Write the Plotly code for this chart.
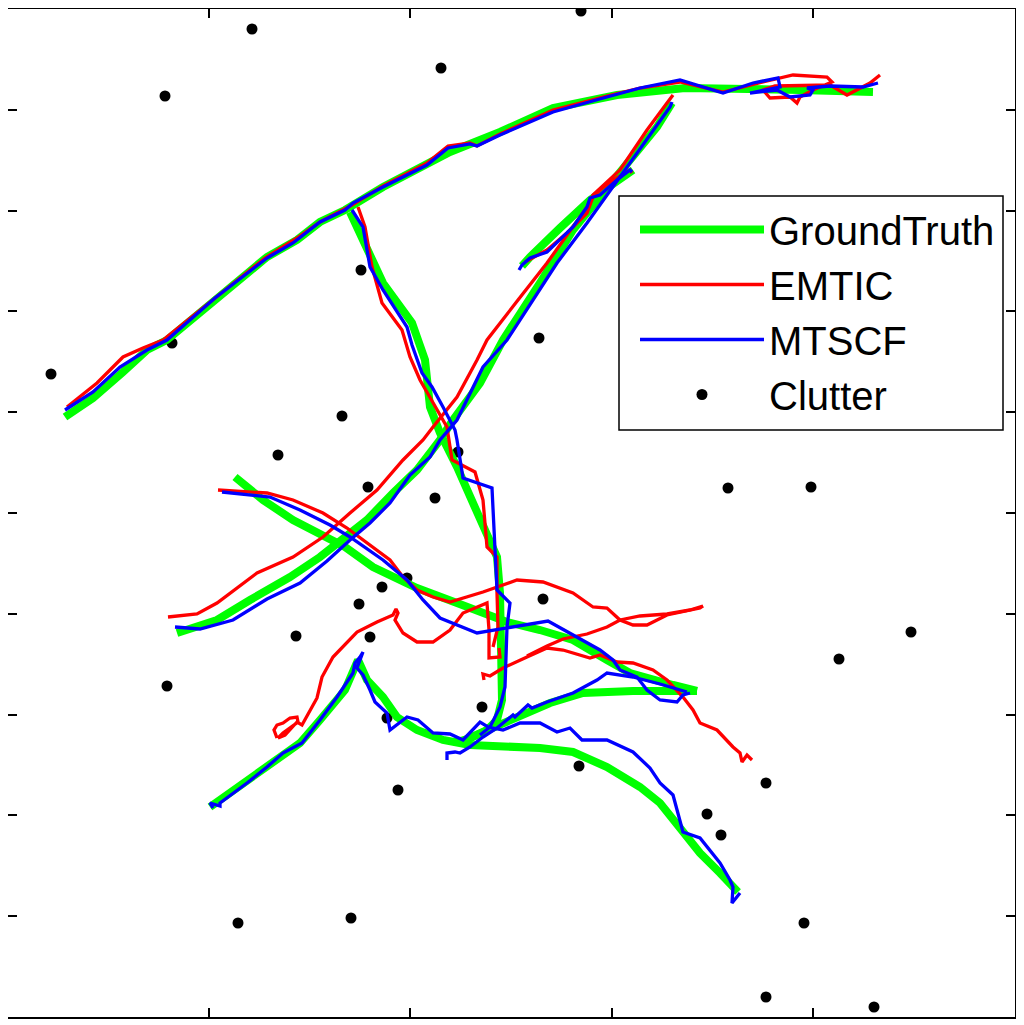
import plotly.graph_objects as go

# ---- Data (image-plane coordinates; y grows downward) ----
# Ground truth tracks
gt_tracks = [
    ([65, 93, 123, 147, 167, 215, 267, 297, 320, 345, 383, 450, 500, 553, 617, 685, 750, 800, 873],
     [417, 398, 372, 350, 340, 300, 257, 240, 222, 210, 187, 152, 132, 108, 95, 88, 88, 90, 92]),
    ([350, 370, 383, 412, 420, 425, 430, 440, 457, 480, 497, 500, 502, 502, 497, 487, 467, 453],
     [212, 253, 283, 323, 345, 360, 407, 433, 467, 520, 557, 593, 660, 700, 720, 730, 740, 742]),
    ([177, 217, 250, 290, 320, 343, 367, 393, 417, 440, 453, 480, 503, 540, 573, 603, 630, 657, 672],
     [633, 620, 600, 577, 557, 540, 520, 493, 470, 440, 420, 383, 340, 283, 230, 193, 160, 127, 103]),
    ([522, 530, 560, 590, 633],
     [266, 257, 228, 200, 170]),
    ([235, 263, 293, 345, 373, 417, 457, 507, 540, 573, 607, 630, 673, 697],
     [477, 500, 520, 547, 567, 588, 603, 622, 630, 640, 660, 673, 685, 691]),
    ([210, 247, 300, 320, 345, 358, 367, 383, 397, 417, 443, 470, 500, 540, 573, 607, 640, 660, 680, 700, 720, 738],
     [807, 780, 743, 720, 690, 660, 680, 697, 717, 730, 740, 745, 746, 748, 752, 767, 787, 803, 828, 853, 873, 892]),
    ([460, 480, 517, 550, 583, 633, 697],
     [742, 733, 717, 703, 693, 691, 691]),
]

# EMTIC estimates
emtic_tracks = [
    ([67, 97, 123, 143, 163, 215, 265, 297, 320, 352, 383, 427, 448, 470, 477, 500, 553, 607, 640, 680,
      723, 763, 793, 827, 832, 813, 800, 797, 790, 770, 763, 775, 830, 847, 870, 880],
     [407, 383, 357, 348, 340, 298, 258, 238, 222, 205, 186, 163, 146, 143, 146, 134, 110, 96, 88, 82,
      92, 82, 75, 77, 82, 90, 97, 103, 97, 98, 90, 86, 85, 95, 83, 75]),
    ([358, 365, 372, 382, 402, 410, 420, 437, 447, 452, 475, 483, 487, 497, 497, 498, 493],
     [207, 227, 267, 303, 330, 357, 380, 410, 427, 460, 472, 500, 547, 557, 593, 627, 647]),
    ([168, 197, 217, 257, 293, 323, 350, 377, 403, 423, 433, 457, 477, 487, 518, 547, 590, 593, 620, 647, 667, 673],
     [617, 614, 603, 573, 557, 537, 513, 490, 460, 440, 427, 397, 360, 340, 300, 263, 203, 195, 170, 130, 103, 95]),
    ([525, 547, 567, 587, 593, 600, 613, 630, 632],
     [262, 250, 233, 213, 197, 190, 180, 170, 173]),
    ([218, 267, 293, 323, 347, 367, 390, 403, 417, 433, 450, 483, 517, 543, 573, 593, 607, 620, 633, 647, 657, 667, 700, 703],
     [490, 493, 500, 513, 528, 543, 560, 577, 590, 597, 602, 592, 580, 582, 593, 607, 608, 620, 625, 625, 620, 615, 608, 606]),
    ([277, 274, 277, 283, 290, 297, 298, 290, 283, 278, 285, 297, 302, 317, 322, 333, 357, 377, 393, 396, 398, 395,
      403, 417, 433, 450, 463, 487, 489, 489, 500, 499],
     [738, 730, 725, 723, 718, 717, 722, 728, 733, 738, 735, 722, 725, 698, 677, 657, 632, 622, 615, 609, 613, 620,
      633, 642, 642, 630, 613, 603, 630, 658, 657, 648]),
    ([484, 483, 490, 503, 527, 547, 563, 590, 600, 617, 633, 653, 667, 683, 693, 700, 717, 733, 740, 742, 747, 752],
     [680, 674, 676, 668, 657, 648, 650, 658, 655, 662, 663, 670, 680, 697, 710, 723, 730, 747, 753, 762, 755, 760]),
    ([527, 547, 563, 587, 607, 620, 640, 667, 690, 703],
     [656, 646, 639, 634, 627, 620, 616, 614, 610, 606]),
]

# MTSCF estimates
mtscf_tracks = [
    ([65, 93, 120, 147, 167, 215, 267, 293, 320, 345, 353, 383, 427, 448, 470, 477, 500, 553, 607, 640, 680,
      723, 753, 778, 780, 750, 777, 790, 810, 813, 807, 830, 863, 878],
     [410, 392, 367, 350, 340, 298, 258, 243, 222, 210, 203, 187, 165, 148, 144, 146, 135, 112, 97, 88, 80,
      93, 83, 78, 87, 93, 90, 97, 95, 90, 88, 86, 87, 83]),
    ([352, 363, 370, 383, 407, 412, 422, 432, 443, 455, 457, 463, 492, 495, 497, 510, 507, 505, 500, 490, 480],
     [210, 227, 267, 290, 327, 345, 373, 387, 407, 430, 440, 478, 488, 557, 590, 603, 627, 687, 707, 727, 735]),
    ([175, 200, 233, 267, 300, 327, 350, 370, 390, 410, 430, 440, 457, 483, 507, 540, 557, 587, 613, 637, 670, 672],
     [627, 629, 620, 599, 583, 561, 540, 523, 503, 475, 457, 440, 420, 367, 340, 290, 263, 223, 187, 153, 107, 102]),
    ([519, 522, 530, 547, 573, 587, 590, 600, 617, 630, 632],
     [270, 265, 258, 252, 227, 207, 198, 195, 180, 170, 172]),
    ([222, 270, 300, 330, 350, 383, 407, 423, 440, 477, 548, 577, 600, 613, 620, 637, 647, 660, 677, 683, 690],
     [492, 497, 510, 525, 537, 560, 580, 600, 618, 633, 621, 637, 650, 660, 670, 677, 690, 700, 702, 695, 693]),
    ([213, 210, 220, 220, 247, 267, 283, 302, 320, 337, 353, 355, 360, 363, 357, 363, 370, 375, 387, 390, 407, 418,
      433, 450, 463, 480, 488, 503, 520, 540, 557, 570, 582, 607, 633, 650, 660, 673, 683, 700, 720, 730, 733, 732, 740],
     [808, 803, 806, 803, 783, 767, 753, 743, 720, 697, 673, 663, 657, 652, 668, 675, 690, 702, 713, 730, 717, 720,
      733, 734, 740, 722, 727, 730, 723, 723, 732, 728, 740, 740, 752, 768, 783, 795, 832, 838, 863, 880, 887, 903, 893]),
    ([447, 447, 455, 460, 470, 483, 497, 513, 515, 528, 532, 547, 573, 597, 607, 633, 660, 687],
     [760, 753, 752, 753, 747, 737, 728, 715, 717, 705, 708, 702, 693, 680, 673, 677, 684, 692]),
]

# Clutter measurements
clutter_x = [252, 165, 581, 441, 361, 539, 172, 51, 342, 278, 458, 368, 435, 728, 811, 407, 382, 359,
             543, 296, 370, 911, 839, 167, 482, 387, 579, 398, 766, 707, 721, 238, 351, 804, 766, 874]
clutter_y = [29, 96, 11, 68, 270, 338, 343, 374, 416, 455, 452, 487, 498, 488, 487, 578, 587, 604,
             599, 636, 637, 632, 659, 686, 707, 718, 766, 790, 783, 814, 835, 923, 918, 923, 997, 1007]

series_names = ["GroundTruth", "EMTIC", "MTSCF", "Clutter"]

# ---- Figure ----
fig = go.Figure()

fig.add_trace(go.Scatter(
    x=clutter_x, y=clutter_y, mode="markers", name=series_names[3],
    marker=dict(color="black", size=11), legendrank=4, showlegend=True))

styles = [
    (gt_tracks, series_names[0], "#00ff00", 8, 1),
    (emtic_tracks, series_names[1], "#ff0000", 3.3, 2),
    (mtscf_tracks, series_names[2], "#0000ff", 3.3, 3),
]
for tracks, name, color, width, rank in styles:
    for i, (tx, ty) in enumerate(tracks):
        fig.add_trace(go.Scatter(
            x=tx, y=ty, mode="lines", name=name, legendgroup=name,
            showlegend=(i == 0), legendrank=rank,
            line=dict(color=color, width=width)))

# axis box spans x 7..1015 and y 9..1017 in the image plane
bx0, bx1 = 7, 1015
by0, by1 = 1017, 9
xstep = (bx1 - bx0) / 5
ystep = (by0 - by1) / 10

axis_common = dict(showgrid=False, zeroline=False, showline=True, linecolor="black", linewidth=2,
                   mirror="ticks", ticks="inside", ticklen=9, tickwidth=2, tickcolor="black",
                   showticklabels=False)

fig.update_xaxes(range=[8, 1015], tickvals=[bx0 + xstep * k for k in range(1, 5)], **axis_common)
fig.update_yaxes(range=[1017, 9], tickvals=[by0 - ystep * k for k in range(1, 10)], **axis_common)

# plot area: page x 8..1015 (width 1007), page y 9..1017 (height 1008)
PW, PH, PL, PT = 1007.0, 1008.0, 8.0, 9.0


def px(xp):
    return (xp - PL) / PW


def py(yp):
    return (PT + PH - yp) / PH


# legend frame
fig.add_shape(type="rect", xref="paper", yref="paper",
              x0=px(619), x1=px(1003), y0=py(430), y1=py(196),
              fillcolor="white", line=dict(color="black", width=1.5), layer="above")

fig.update_layout(
    width=1016, height=1017,
    margin=dict(l=0, r=9, t=1, b=8, pad=0),
    plot_bgcolor="white", paper_bgcolor="white",
    legend=dict(x=px(635), y=py(197), xanchor="left", yanchor="top",
                bgcolor="rgba(0,0,0,0)", borderwidth=0,
                font=dict(family="Liberation Sans, Arial, sans-serif", size=40, color="black"),
                itemwidth=124, tracegroupgap=0),
)

fig.write_html("out.html")
